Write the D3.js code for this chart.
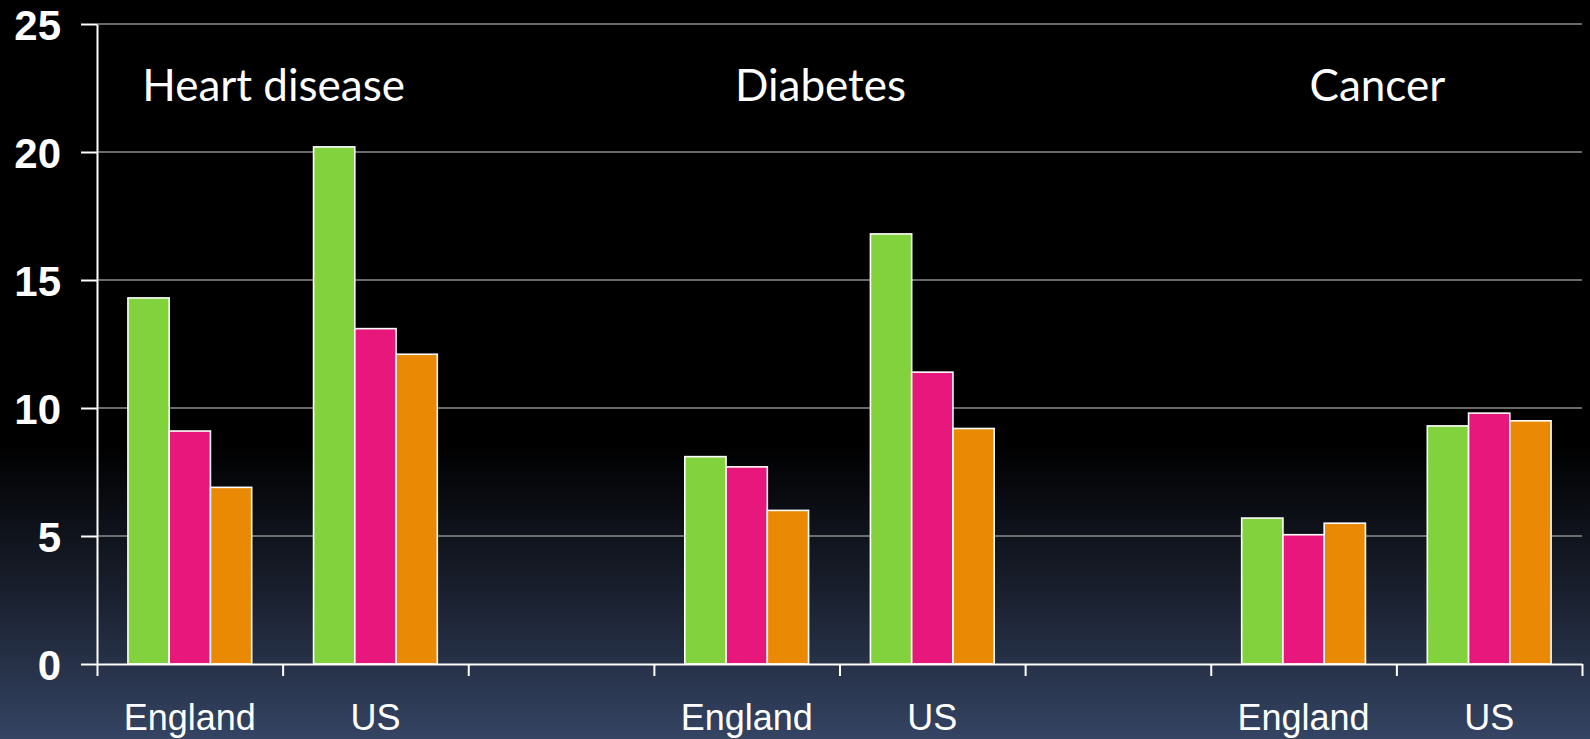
<!DOCTYPE html>
<html>
<head>
<meta charset="utf-8">
<script src="https://cdn.jsdelivr.net/npm/d3@7"></script>
<style>
  html, body { margin: 0; padding: 0; background: #000; }
  svg { display: block; }
</style>
</head>
<body>
<svg id="chart" width="1590" height="739"></svg>
<script>
// Axis slots: two countries per disease, with an empty slot between diseases
const slotLabels = ["England", "US", "", "England", "US", "", "England", "US"];
const barSlots = [0, 1, 3, 4, 6, 7];
const groupNames = ["Heart disease", "Diabetes", "Cancer"];
const groupSlots = [[0, 1], [3, 4], [6, 7]];
const yTicks = [0, 5, 10, 15, 20, 25];

// Three series, one value per bar (England/US for each disease)
const seriesGreen  = [14.3, 20.2, 8.1, 16.8, 5.7, 9.3];
const seriesPink   = [9.1, 13.1, 7.7, 11.4, 5.05, 9.8];
const seriesOrange = [6.9, 12.1, 6.0, 9.2, 5.5, 9.5];

const seriesList = [
  { key: "green",  values: seriesGreen,  color: "#82d23d" },
  { key: "pink",   values: seriesPink,   color: "#e8177c" },
  { key: "orange", values: seriesOrange, color: "#e98904" }
];

const W = 1590, H = 739;
const margin = { left: 97, right: 8, top: 24, bottom: 75 };
const plotL = margin.left, plotR = W - margin.right;
const plotT = margin.top, plotB = H - margin.bottom;

const svg = d3.select("#chart");

// Background: black fading into a slate blue at the bottom
const defs = svg.append("defs");
const grad = defs.append("linearGradient")
  .attr("id", "bg").attr("x1", 0).attr("y1", 0).attr("x2", 0).attr("y2", 1);
grad.append("stop").attr("offset", "0.60").attr("stop-color", "#000000");
grad.append("stop").attr("offset", "0.80").attr("stop-color", "#191f2d");
grad.append("stop").attr("offset", "1").attr("stop-color", "#344463");
svg.append("rect").attr("width", W).attr("height", H).attr("fill", "url(#bg)");

const y = d3.scaleLinear().domain([0, 25]).range([plotB, plotT]);
const xSlot = d3.scaleBand().domain(d3.range(slotLabels.length))
  .range([plotL, plotR]).paddingInner(0).paddingOuter(0);
const xEdge = d3.scaleLinear().domain([0, slotLabels.length]).range([plotL, plotR]);
const xSeries = d3.scaleBand().domain(seriesList.map(s => s.key))
  .range([0, xSlot.bandwidth()]).paddingInner(0).paddingOuter(0.75);

// Horizontal gridlines
svg.append("g").selectAll("line")
  .data(yTicks.filter(t => t > 0))
  .join("line")
  .attr("x1", plotL).attr("x2", plotR)
  .attr("y1", d => y(d)).attr("y2", d => y(d))
  .attr("stroke", "#8c8c8c").attr("stroke-width", 1.6);

// Bars
const barData = [];
barSlots.forEach((slot, i) => {
  seriesList.forEach(s => barData.push({ slot, key: s.key, value: s.values[i], color: s.color }));
});
svg.append("g").selectAll("rect")
  .data(barData)
  .join("rect")
  .attr("x", d => xSlot(d.slot) + xSeries(d.key))
  .attr("y", d => y(d.value))
  .attr("width", xSeries.bandwidth())
  .attr("height", d => y(0) - y(d.value))
  .attr("fill", d => d.color)
  .attr("stroke", "#ffffff").attr("stroke-width", 1.6);

// Y axis
const yAxis = svg.append("g")
  .attr("transform", `translate(${plotL},0)`)
  .call(d3.axisLeft(y).tickValues(yTicks).tickSize(16).tickPadding(20).tickSizeOuter(0));
yAxis.select(".domain").attr("stroke", "#ffffff").attr("stroke-width", 2);
yAxis.selectAll(".tick line").attr("stroke", "#ffffff").attr("stroke-width", 2);
yAxis.selectAll(".tick text")
  .attr("fill", "#ffffff")
  .attr("font-family", "'Liberation Sans', Arial, sans-serif")
  .attr("font-weight", "bold")
  .attr("font-size", 42)
  .attr("dy", "0.36em");

// X axis with tick marks on slot boundaries
const xAxis = svg.append("g")
  .attr("transform", `translate(0,${plotB})`)
  .call(d3.axisBottom(xEdge).tickValues(d3.range(slotLabels.length + 1))
    .tickSize(12).tickSizeOuter(0).tickFormat(""));
xAxis.select(".domain").attr("stroke", "#ffffff").attr("stroke-width", 2);
xAxis.selectAll(".tick line").attr("stroke", "#ffffff").attr("stroke-width", 2);

// Country labels under each slot
svg.append("g").selectAll("text")
  .data(slotLabels.map((label, i) => ({ label, i })).filter(d => d.label))
  .join("text")
  .attr("x", d => xSlot(d.i) + xSlot.bandwidth() / 2)
  .attr("y", 730)
  .attr("text-anchor", "middle")
  .attr("fill", "#ffffff")
  .attr("font-family", "'Liberation Sans', Arial, sans-serif")
  .attr("font-size", 36)
  .text(d => d.label);

// Disease titles above each pair
const titleShift = [-9, -19, -19];
svg.append("g").selectAll("text")
  .data(groupNames.map((name, i) => ({ name, i })))
  .join("text")
  .attr("x", d => (xSlot(groupSlots[d.i][0]) + xSlot(groupSlots[d.i][1]) + xSlot.bandwidth()) / 2 + titleShift[d.i])
  .attr("y", 101)
  .attr("text-anchor", "middle")
  .attr("fill", "#ffffff")
  .attr("font-family", "Lato, 'Open Sans', sans-serif")
  .attr("font-size", 44)
  .text(d => d.name);
</script>
</body>
</html>
